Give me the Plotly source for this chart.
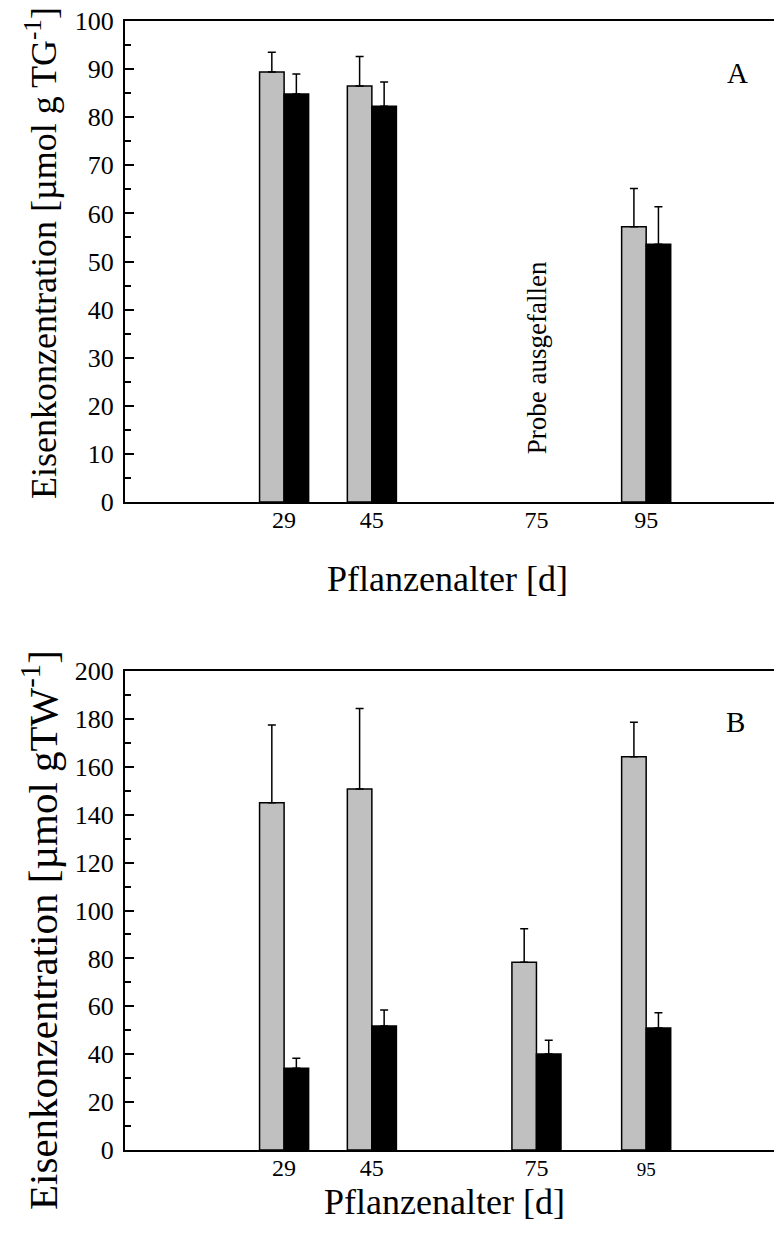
import plotly.graph_objects as go
from plotly.subplots import make_subplots

# ---- data ----
age_A = [29, 45, 95]
grey_A = [89.4, 86.5, 57.2]
grey_A_err = [4.1, 6.1, 8.0]
black_A = [84.8, 82.3, 53.6]
black_A_err = [4.2, 5.0, 7.8]

age_B = [29, 45, 75, 95]
grey_B = [145.0, 150.7, 78.4, 164.2]
grey_B_err = [32.5, 33.6, 14.0, 14.4]
black_B = [34.1, 51.8, 40.1, 50.9]
black_B_err = [4.2, 6.7, 5.7, 6.4]

tick_vals = [29, 45, 75, 95]
tick_text_A = ["29", "45", "75", "95"]
tick_text_B = ["29", "45", "75", '<span style="font-size:19px">95</span>']

FONT = "Liberation Serif"
GREY = "#c0c0c0"

fig = make_subplots(rows=2, cols=1)

def add_bars(x, yg, eg, yb, eb, row):
    fig.add_trace(go.Bar(
        x=x, y=yg, marker=dict(color=GREY, line=dict(color="black", width=1.5)),
        error_y=dict(type="data", symmetric=False, array=eg, arrayminus=[0]*len(eg),
                     color="black", thickness=1.5, width=4),
        showlegend=False), row=row, col=1)
    fig.add_trace(go.Bar(
        x=x, y=yb, marker=dict(color="black", line=dict(color="black", width=1.5)),
        error_y=dict(type="data", symmetric=False, array=eb, arrayminus=[0]*len(eb),
                     color="black", thickness=1.5, width=4),
        showlegend=False), row=row, col=1)

add_bars(age_A, grey_A, grey_A_err, black_A, black_A_err, 1)
add_bars(age_B, grey_B, grey_B_err, black_B, black_B_err, 2)

H = 1238.0
W = 774.0
xdom = [125 / W, 1.0]
ydomA = [1 - 502 / H, 1 - 21 / H]
ydomB = [1 - 1150 / H, 1 - 671 / H]

xcommon = dict(range=[0, 118.3], showline=True, linecolor="black", linewidth=2,
               mirror=True, showgrid=False, zeroline=False, ticks="",
               ticklabelstandoff=-5, tickvals=tick_vals,
               automargin=False,
               tickfont=dict(family=FONT, size=24, color="black"), domain=xdom)
fig.update_xaxes(**xcommon)
fig.update_xaxes(ticktext=tick_text_A, row=1, col=1)
fig.update_xaxes(ticktext=tick_text_B, row=2, col=1)

ycommon = dict(showline=True, linecolor="black", linewidth=2, mirror=False,
               showgrid=False, zeroline=False, ticks="inside", ticklen=9,
               tickwidth=1.5, tickcolor="black", ticklabelstandoff=4,
               automargin=False,
               tickfont=dict(family=FONT, size=26, color="black"))
fig.update_yaxes(**ycommon)
fig.update_yaxes(range=[0, 100], dtick=10, tick0=0, domain=ydomA,
                 minor=dict(dtick=5, ticks="inside", ticklen=6, tickwidth=1.5, tickcolor="black"),
                 row=1, col=1)
fig.update_yaxes(range=[0, 200], dtick=20, tick0=0, domain=ydomB,
                 minor=dict(dtick=10, ticks="inside", ticklen=6, tickwidth=1.5, tickcolor="black"),
                 row=2, col=1)

ann_font = dict(family=FONT, color="black")
annotations = [
    dict(text="Eisenkonzentration [µmol g TG<sup>-1</sup>]", textangle=-90,
         x=42 / W, y=1 - 253 / H, xref="paper", yref="paper", showarrow=False,
         xanchor="center", yanchor="middle", font=dict(size=36, **ann_font)),
    dict(text="Eisenkonzentration [µmol gTW<sup>-1</sup>]", textangle=-90,
         x=40 / W, y=1 - 930 / H, xref="paper", yref="paper", showarrow=False,
         xanchor="center", yanchor="middle", font=dict(size=41, **ann_font)),
    dict(text="Pflanzenalter [d]", x=448 / W, y=1 - 579 / H, xref="paper", yref="paper",
         showarrow=False, xanchor="center", yanchor="middle", font=dict(size=36, **ann_font)),
    dict(text="Pflanzenalter [d]", x=444 / W, y=1 - 1202 / H, xref="paper", yref="paper",
         showarrow=False, xanchor="center", yanchor="middle", font=dict(size=36, **ann_font)),
    dict(text="A", x=737 / W, y=1 - 73 / H, xref="paper", yref="paper", showarrow=False,
         xanchor="center", yanchor="middle", font=dict(size=29, **ann_font)),
    dict(text="B", x=735 / W, y=1 - 722 / H, xref="paper", yref="paper", showarrow=False,
         xanchor="center", yanchor="middle", font=dict(size=29, **ann_font)),
    dict(text="Probe ausgefallen", textangle=-90, x=75, y=30, xref="x", yref="y",
         showarrow=False, xanchor="center", yanchor="middle", font=dict(size=27, **ann_font)),
]

fig.update_layout(
    width=774, height=1238, margin=dict(l=0, r=0, t=0, b=0, autoexpand=False),
    paper_bgcolor="white", plot_bgcolor="white",
    barmode="group", bargap=0.441, bargroupgap=0,
    annotations=annotations, showlegend=False,
)

fig.write_html("out.html")
